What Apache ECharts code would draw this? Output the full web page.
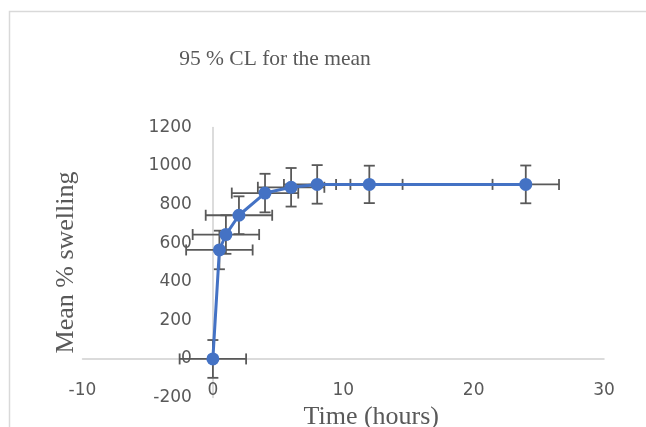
<!DOCTYPE html>
<html>
<head>
<meta charset="utf-8">
<script src="https://cdn.jsdelivr.net/npm/echarts@6/dist/echarts.min.js"></script>
<style>
	html, body { margin: 0; padding: 0; background: #fff; }
	#chart { width: 646px; height: 427px; }
</style>
</head>
<body>
<div id="chart"></div>
<script>
	//数据：时间(小时)、平均溶胀率及95%置信区间
	var timeH = [0, 0.5, 1, 2, 4, 6, 8, 12, 24];
	var meanSwell = [0, 565, 645, 745, 860, 890, 905, 905, 905];
	var timeErr = [2.55, 2.55, 2.55, 2.55, 2.55, 2.55, 2.55, 2.55, 2.55];
	var swellErr = [98, 100, 100, 98, 100, 100, 100, 97, 98];
	var xTicks = [-10, 0, 10, 20, 30];
	var yTicks = [-200, 0, 200, 400, 600, 800, 1000, 1200];

	var pointData = [];
	var errData = [];
	for(var i = 0; i < timeH.length; i++) {
		pointData.push([timeH[i], meanSwell[i]]);
		errData.push([timeH[i], meanSwell[i], timeErr[i], swellErr[i]]);
	}

	var axisColor = '#D0D0D0';
	var labelColor = '#595959';
	var barColor = '#595959';

	//绘图区
	var W = 646, H = 427;
	var gl = 82.5, gr = 42, gt = 127.5, gb = 29.5;
	var xMin = xTicks[0], xMax = xTicks[xTicks.length - 1];
	var yMin = yTicks[0], yMax = yTicks[yTicks.length - 1];
	//坐标轴移到0处（标签跟着轴线走）
	var yOffset = -(W - gl - gr) * (0 - xMin) / (xMax - xMin);
	var xOffset = -(H - gt - gb) * (0 - yMin) / (yMax - yMin);

	//误差线（十字形带端帽）
	function renderErr(params, api) {
		var x = api.value(0), y = api.value(1);
		var xe = api.value(2), ye = api.value(3);
		var top = api.coord([x, y + ye]);
		var bot = api.coord([x, y - ye]);
		var lft = api.coord([x - xe, y]);
		var rgt = api.coord([x + xe, y]);
		var cap = 5.5;
		var st = { stroke: barColor, lineWidth: 1.8 };
		function seg(x1, y1, x2, y2) {
			return { type: 'line', shape: { x1: x1, y1: y1, x2: x2, y2: y2 }, style: st };
		}
		return {
			type: 'group',
			children: [
				seg(top[0], top[1], bot[0], bot[1]),
				seg(top[0] - cap, top[1], top[0] + cap, top[1]),
				seg(bot[0] - cap, bot[1], bot[0] + cap, bot[1]),
				seg(lft[0], lft[1], rgt[0], rgt[1]),
				seg(lft[0], lft[1] - cap, lft[0], lft[1] + cap),
				seg(rgt[0], rgt[1] - cap, rgt[0], rgt[1] + cap)
			]
		};
	}

	function plainNum(v) {
		return String(v);
	}

	var myChart = echarts.init(document.getElementById('chart'));
	var option = {
		animation: false,
		title: {
			text: '95 % CL for the mean',
			left: 270,
			top: 43,
			textAlign: 'center',
			textStyle: {
				fontFamily: 'Liberation Serif',
				fontSize: 21.5,
				fontWeight: 'normal',
				color: labelColor
			}
		},
		graphic: [{
			type: 'rect',
			shape: { x: 9.5, y: 11.5, width: 800, height: 800 },
			style: { fill: 'none', stroke: '#D9D9D9', lineWidth: 1.5 },
			silent: true
		}],
		grid: {
			left: gl,
			right: gr,
			top: gt,
			bottom: gb,
			containLabel: false,
			outerBoundsMode: 'none'
		},
		xAxis: {
			type: 'value',
			min: xMin,
			max: xMax,
			interval: 10,
			offset: xOffset,
			name: 'Time (hours)',
			nameLocation: 'middle',
			nameGap: 45,
			nameTextStyle: {
				fontFamily: 'Liberation Serif',
				fontSize: 26,
				color: labelColor,
				padding: [0, 0, 0, 56]
			},
			axisLine: { onZero: false, lineStyle: { color: axisColor, width: 1.5 } },
			axisTick: { show: false },
			splitLine: { show: false },
			axisLabel: {
				margin: 23,
				fontFamily: 'DejaVu Sans',
				fontSize: 17,
				color: labelColor,
				formatter: plainNum
			}
		},
		yAxis: {
			type: 'value',
			min: yMin,
			max: yMax,
			interval: 200,
			offset: yOffset,
			name: 'Mean % swelling',
			nameLocation: 'middle',
			nameRotate: 90,
			nameGap: 134,
			nameTextStyle: {
				fontFamily: 'Liberation Serif',
				fontSize: 26,
				color: labelColor
			},
			axisLine: { show: true, onZero: false, lineStyle: { color: axisColor, width: 1.5 } },
			axisTick: { show: false },
			splitLine: { show: false },
			axisLabel: {
				margin: 21,
				fontFamily: 'DejaVu Sans',
				fontSize: 17,
				color: labelColor,
				formatter: plainNum
			}
		},
		series: [{
			type: 'custom',
			z: 1,
			renderItem: renderErr,
			data: errData
		}, {
			type: 'line',
			z: 2,
			data: pointData,
			symbol: 'circle',
			symbolSize: 13,
			itemStyle: { color: '#4472C4' },
			lineStyle: { color: '#4472C4', width: 3 }
		}]
	};
	myChart.setOption(option);
</script>
</body>
</html>
